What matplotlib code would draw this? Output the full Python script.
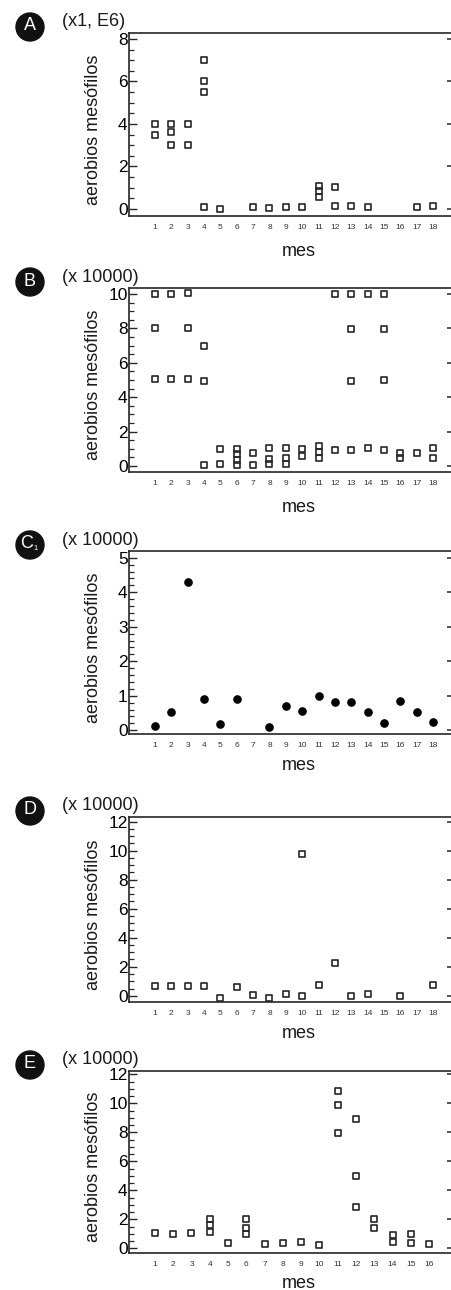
import matplotlib.pyplot as plt
from matplotlib.markers import MarkerStyle
from matplotlib.patches import Circle
from matplotlib.ticker import MultipleLocator

plt.rcParams['font.family'] = ['Liberation Sans', 'DejaVu Sans']

# datos (mes, recuento)
a_mes = [1, 1, 2, 2, 2, 3, 3, 4, 4, 4, 4, 5, 7, 8, 9, 10, 11, 11, 11, 12, 12, 13, 14, 17, 18]
a_val = [4.0, 3.5, 4.0, 3.6, 3.0, 4.0, 3.0, 7.0, 6.0, 5.5, 0.1, 0.0, 0.1, 0.05, 0.1, 0.1,
         1.07, 0.83, 0.58, 1.03, 0.15, 0.15, 0.1, 0.1, 0.15]

b_mes = [1, 1, 1, 2, 2, 3, 3, 3, 4, 4, 4, 5, 5, 6, 6, 6, 6, 7, 7, 8, 8, 8, 9, 9, 9,
         10, 10, 11, 11, 11, 12, 12, 13, 13, 13, 13, 14, 14, 15, 15, 15, 15, 16, 16, 17, 18, 18]
b_val = [10.0, 8.0, 5.05, 10.0, 5.05, 10.05, 8.0, 5.05, 7.0, 4.95, 0.08, 0.99, 0.12,
         1.0, 0.72, 0.37, 0.06, 0.75, 0.08, 1.05, 0.41, 0.09, 1.05, 0.46, 0.13,
         0.99, 0.56, 1.14, 0.83, 0.46, 10.0, 0.95, 10.0, 7.95, 4.95, 0.95,
         10.0, 1.05, 10.0, 7.95, 5.02, 0.95, 0.75, 0.47, 0.75, 1.05, 0.47]

c_mes = [1, 2, 3, 4, 5, 6, 8, 9, 10, 11, 12, 13, 14, 15, 16, 17, 18]
c_val = [0.13, 0.52, 4.3, 0.9, 0.17, 0.9, 0.1, 0.7, 0.56, 1.0, 0.81, 0.83, 0.54, 0.22, 0.85, 0.54, 0.25]

d_mes = [1, 2, 3, 4, 5, 6, 7, 8, 9, 10, 10, 11, 12, 13, 14, 16, 18]
d_val = [0.7, 0.7, 0.7, 0.7, -0.18, 0.57, 0.05, -0.18, 0.11, 9.75, -0.02, 0.74, 2.25,
         -0.05, 0.09, -0.05, 0.74]

e_mes = [1, 2, 3, 4, 4, 4, 5, 6, 6, 6, 7, 8, 9, 10, 11, 11, 11, 12, 12, 12,
         13, 13, 14, 14, 15, 15, 16]
e_val = [1.08, 1.01, 1.06, 2.0, 1.6, 1.1, 0.37, 2.0, 1.43, 0.97, 0.32, 0.34, 0.41, 0.23,
         10.85, 9.9, 7.93, 8.92, 4.99, 2.83, 2.0, 1.43, 0.9, 0.41, 0.97, 0.37, 0.3]

W, H = 451, 1290
fig = plt.figure(figsize=(W / 100, H / 100), dpi=100)

cuadro = MarkerStyle('s', fillstyle='none', joinstyle='round')
gris = '#262626'


def panel(meses, valores, top, bottom, ylim, mayor, menor, n_meses, xlim,
          letra, escala, mes_dy, relleno=False):
    # ejes en pixeles de la figura
    left, right = 129, 451
    ax = fig.add_axes([left / W, 1 - bottom / H, (right - left) / W, (bottom - top) / H])

    if relleno:
        ax.plot(meses, valores, linestyle='none', marker='o', ms=5.2,
                color='black', clip_on=False)
    else:
        ax.plot(meses, valores, linestyle='none', marker=cuadro, ms=4.7,
                mew=1.2, color=gris, clip_on=False)

    ax.set_xlim(*xlim)
    ax.set_ylim(*ylim)
    ax.set_xticks(range(1, n_meses + 1))
    ax.yaxis.set_major_locator(MultipleLocator(mayor))
    ax.yaxis.set_minor_locator(MultipleLocator(menor))

    for lado in ['left', 'top', 'bottom']:
        ax.spines[lado].set_linewidth(1.2)
        ax.spines[lado].set_color(gris)
    ax.spines['right'].set_visible(False)

    ax.tick_params(axis='x', length=0, labelsize=6, pad=6, labelcolor='#333333')
    ax.tick_params(axis='y', which='major', direction='in', length=6, width=1,
                   color=gris, labelsize=12.5, pad=1)
    ax.tick_params(axis='y', which='minor', direction='in', length=3.5, width=0.9,
                   color=gris)

    # marcas cortas del lado derecho
    der = ax.twinx()
    der.set_ylim(*ylim)
    der.yaxis.set_major_locator(MultipleLocator(mayor))
    der.tick_params(axis='y', direction='in', length=3, width=1.1, color=gris,
                    labelright=False)
    for lado in der.spines.values():
        lado.set_visible(False)

    # etiquetas
    centro = (top + bottom) / 2 + 5
    fig.text(93 / W, 1 - centro / H, 'aerobios mesófilos', rotation=90,
             ha='center', va='center', fontsize=13, color='#1a1a1a')
    fig.text(299 / W, 1 - (bottom + mes_dy) / H, 'mes', ha='center', va='center',
             fontsize=13, color='#1a1a1a')
    fig.text(62 / W, 1 - (top - 11) / H, escala, ha='left', va='center',
             fontsize=13, color='#1a1a1a')

    # circulo con la letra del panel
    cy = top - 6
    fig.add_artist(Circle((30 / 100, (H - cy) / 100), 0.14,
                          transform=fig.dpi_scale_trans, color='#111111'))
    if letra == 'C1':
        fig.text(27 / W, 1 - (cy - 1) / H, 'C', color='white', fontsize=13,
                 ha='center', va='center')
        fig.text(35.5 / W, 1 - (cy + 4) / H, '1', color='white', fontsize=5.5,
                 ha='center', va='center')
    else:
        fig.text(30 / W, 1 - (cy - 1) / H, letra, color='white', fontsize=13,
                 ha='center', va='center')
    return ax


panel(a_mes, a_val, 33, 216, (-0.33, 8.28), 2, 0.5, 18, (-0.59, 19.1), 'A', '(x1, E6)', 36)
panel(b_mes, b_val, 288, 472, (-0.35, 10.35), 2, 0.5, 18, (-0.59, 19.1), 'B', '(x 10000)', 35)
panel(c_mes, c_val, 551, 734, (-0.107, 5.194), 1, 0.2, 18, (-0.59, 19.1), 'C1', '(x 10000)', 31,
      relleno=True)
panel(d_mes, d_val, 817, 1002, (-0.43, 12.32), 2, 0.5, 18, (-0.59, 19.1), 'D', '(x 10000)', 31)
panel(e_mes, e_val, 1071, 1253, (-0.32, 12.23), 2, 0.5, 16, (-0.42, 17.2), 'E', '(x 10000)', 31)

fig.savefig('out.png', dpi=100)
